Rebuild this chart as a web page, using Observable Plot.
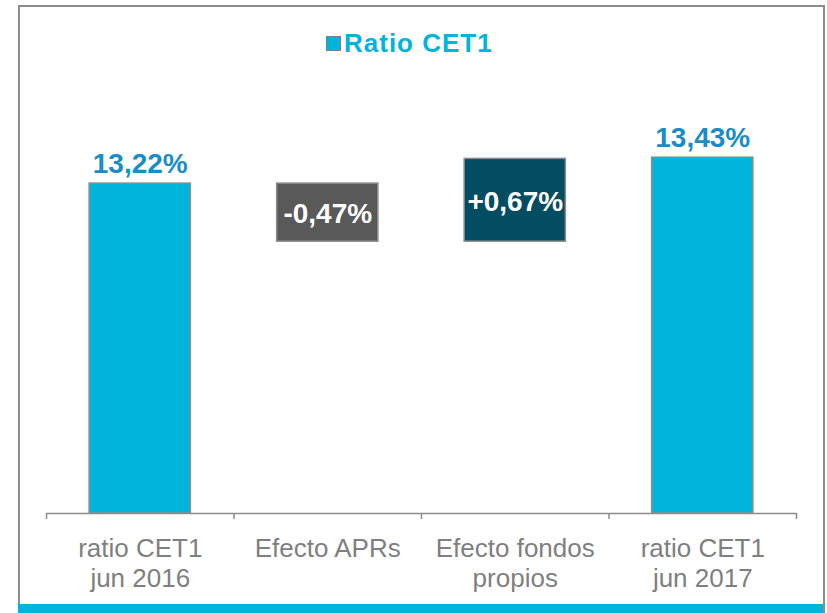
<!DOCTYPE html>
<html>
<head>
<meta charset="utf-8">
<script src="https://cdn.jsdelivr.net/npm/d3@7"></script>
<script src="https://cdn.jsdelivr.net/npm/@observablehq/plot@0.6"></script>
<style>
  body { margin: 0; background: #fff; font-family: "Liberation Sans", Arial, sans-serif; }
  #wrap { position: relative; width: 827px; height: 613px; overflow: hidden; background: #fff; }
  #chart { position: absolute; left: 0; top: 0; }
  #frame { position: absolute; left: 18px; top: 5px; width: 807px; height: 620px; border: 2px solid #8c8c8c; box-sizing: border-box; pointer-events: none; }
  #band { position: absolute; left: 18px; top: 604px; width: 805px; height: 9px; background: #00b4dc; }
  #title { position: absolute; left: 0; top: 0; width: 827px; height: 60px; pointer-events: none; }
  #swatch { position: absolute; left: 326px; top: 36px; width: 13px; height: 13px; background: #00b4dc; border: 1px solid #7f7f7f; }
  #titletext { position: absolute; left: 344px; top: 30px; font-size: 26px; line-height: 26px; font-weight: bold; color: #00b4dc; letter-spacing: 1px; white-space: nowrap; }
</style>
</head>
<body>
<div id="wrap">
  <div id="chart"></div>
  <div id="frame"></div>
  <div id="band"></div>
  <div id="title"><div id="swatch"></div><div id="titletext">Ratio CET1</div></div>
</div>
<script>
// ---- data ----
const categories = ["ratio CET1\njun 2016", "Efecto APRs", "Efecto fondos\npropios", "ratio CET1\njun 2017"];
const values = [13.22, -0.47, 0.67, 13.43];
const isTotal = [true, false, false, true];
const title = "Ratio CET1";

// ---- scale settings ----
const yMin = 10.55, yMax = 14.54;
const kindDomain = ["total", "decrease", "increase"];
const kindColors = ["#00b4dc", "#595959", "#034d63"];

const fmt = (v, signed) => (signed && v > 0 ? "+" : "") + v.toFixed(2).replace(".", ",") + "%";

let running = 0;
const rows = categories.map((cat, i) => {
  const v = values[i];
  if (isTotal[i]) {
    running = v;
    return {cat, y1: yMin, y2: v, kind: "total", label: fmt(v, false)};
  }
  const start = running;
  running = start + v;
  return {cat, y1: start, y2: running, kind: v < 0 ? "decrease" : "increase", label: fmt(v, true)};
});

const W = 827, H = 613, mL = 46, mR = 31;
const step = (W - mL - mR) / categories.length;

const chart = Plot.plot({
  width: W,
  height: H,
  marginLeft: mL,
  marginRight: mR,
  marginTop: 20,
  marginBottom: 100,
  style: {background: "transparent", fontFamily: "'Liberation Sans', Arial, sans-serif"},
  x: {domain: categories, paddingInner: 0.46, paddingOuter: 0.23, round: false, axis: null},
  y: {domain: [yMin, yMax], axis: null},
  color: {domain: kindDomain, range: kindColors},
  marks: [
    Plot.barY(rows, {x: "cat", y1: "y1", y2: "y2", fill: "kind", stroke: "#8c8c8c", strokeWidth: 1.5}),
    Plot.ruleY([yMin], {stroke: "#8c8c8c", strokeWidth: 1.5}),
    Plot.axisX({tickSize: 6, dx: -step / 2, tickFormat: () => "", stroke: "#8c8c8c", strokeWidth: 1.5, label: null}),
    Plot.axisX([categories[categories.length - 1]], {tickSize: 6, dx: step / 2, tickFormat: () => "", stroke: "#8c8c8c", strokeWidth: 1.5, label: null}),
    Plot.text(rows.filter(d => d.kind === "total"), {x: "cat", y: "y2", text: "label", lineAnchor: "bottom", dy: -11, fill: "#1a8dc6", fontSize: 28, fontWeight: "bold"}),
    Plot.text(rows.filter(d => d.kind !== "total"), {x: "cat", y: d => (d.y1 + d.y2) / 2, text: "label", dy: 1.5, fill: "white", fontSize: 28, fontWeight: "bold"}),
    Plot.text(rows, {x: "cat", frameAnchor: "bottom", text: "cat", lineAnchor: "top", dy: 22, lineHeight: 1.15, fontSize: 26, fill: "#7f7f7f"})
  ]
});
document.getElementById("chart").appendChild(chart);
document.getElementById("titletext").textContent = title;
</script>
</body>
</html>
